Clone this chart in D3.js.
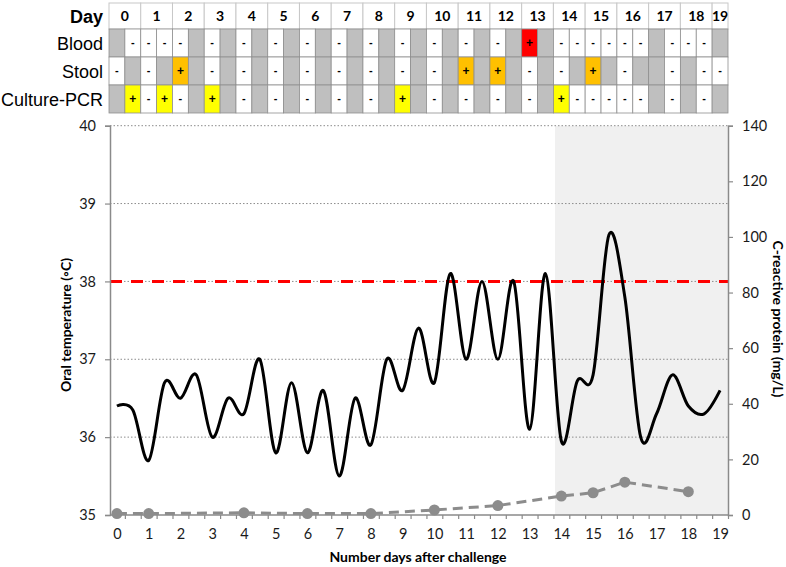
<!DOCTYPE html>
<html><head><meta charset="utf-8">
<script src="https://cdn.jsdelivr.net/npm/d3@7"></script>
<style>body{margin:0;background:#fff}svg{display:block}</style>
</head><body>
<svg id="c" width="786" height="567"></svg>
<script>
// ---------- data ----------
const days = d3.range(0, 20);
const halfDays = d3.range(0, 39).map(i => i / 2);
const temperature = [
  36.4, 36.35, 35.7, 36.7, 36.5, 36.8, 36.0, 36.5, 36.3, 37.0,
  35.8, 36.7, 35.8, 36.6, 35.5, 36.5, 35.9, 37.0, 36.6, 37.4,
  36.7, 38.1, 37.0, 38.0, 37.0, 38.0, 36.1, 38.1, 35.95, 36.72,
  36.8, 38.6, 37.8, 36.0, 36.3, 36.8, 36.4, 36.3, 36.6
];
const crpDays = [0, 1, 4, 6, 8, 10, 12, 14, 15, 16, 18];
const crpValues = [0.5, 0.5, 0.8, 0.5, 0.5, 1.8, 3.4, 6.8, 8.0, 11.8, 8.4];
const tempTicks = [35, 36, 37, 38, 39, 40];
const crpTicks = [0, 20, 40, 60, 80, 100, 120, 140];
const feverThreshold = 38;
const shadeStartDay = 13.8;
const testNames = ["Blood", "Stool", "Culture-PCR"];
// x = not sampled, - = negative, + = positive (one char per half day)
const bloodResults   = "x----x-x-x-x-x-x-x-x-x-x-x+x------x---x";
const stoolResults   = "-x-x+x-x-x-x-x-x-x-x-x+x+x-x-x+x-xx-x--";
const cultureResults = "x+-+-x+x-x-x-x-x-x+x-x-x-x-x+-----x-x-x";
const positiveColors = ["#ff0000", "#ffc000", "#ffff00"];

// ---------- layout ----------
const svg = d3.select("#c");
const L = 109, R = 728, T = 125.7, B = 515;
const x = d3.scaleLinear().domain([-0.25, 19.25]).range([L, R]);
const yT = d3.scaleLinear().domain([35, 40]).range([B, T]);
const yC = d3.scaleLinear().domain([0, 140]).range([B, T]);
const bw = x(0.5) - x(0);
const axisColor = "#8a8a8a";
const numFont = "Lato, 'Open Sans', sans-serif";

// shaded period
svg.append("rect")
  .attr("x", x(shadeStartDay)).attr("y", T)
  .attr("width", R - x(shadeStartDay)).attr("height", B - T)
  .attr("fill", "#f0f0f0");

// grid
svg.append("g").selectAll("line").data(tempTicks.filter(t => t > 35)).join("line")
  .attr("x1", L + 1).attr("x2", R).attr("y1", d => yT(d)).attr("y2", d => yT(d))
  .attr("stroke", "#8c8c8c").attr("stroke-width", 1).attr("stroke-dasharray", "1.5,2");

// fever threshold
svg.append("line")
  .attr("x1", L + 1).attr("x2", R).attr("y1", yT(feverThreshold)).attr("y2", yT(feverThreshold))
  .attr("stroke", "#ff0000").attr("stroke-width", 3).attr("stroke-dasharray", "12,9");

// axes
const gl = svg.append("g").attr("transform", `translate(${L + 1},0)`)
  .call(d3.axisLeft(yT).tickValues(tempTicks).tickSize(5).tickPadding(9).tickFormat(d3.format("d")));
const gr = svg.append("g").attr("transform", `translate(${R},0)`)
  .call(d3.axisRight(yC).tickValues(crpTicks).tickSize(5).tickPadding(9).tickFormat(d3.format("d")));
const gbTicks = svg.append("g").attr("transform", `translate(0,${B})`)
  .call(d3.axisBottom(x).tickValues(d3.range(0, 39).map(i => 0.25 + 0.5 * i)).tickSize(4).tickFormat(""));
const gb = svg.append("g").attr("transform", `translate(0,${B})`)
  .call(d3.axisBottom(x).tickValues(days).tickSize(0).tickPadding(14).tickFormat(d3.format("d")));
gb.select(".domain").remove();
[gl, gr, gbTicks].forEach(g => {
  g.select(".domain").attr("stroke", axisColor).attr("stroke-width", 1.5);
  g.selectAll(".tick line").attr("stroke", axisColor).attr("stroke-width", 1.2);
});
gbTicks.select(".domain").attr("d", `M${L + 1},0H${R}`);
[gl, gr, gb].forEach(g => g.selectAll(".tick text")
  .attr("font-family", numFont).attr("font-size", 14.5).attr("fill", "#1a1a1a"));

// CRP series
const crp = crpDays.map((d, i) => ({ d, v: crpValues[i] }));
svg.append("path").datum(crp)
  .attr("d", d3.line().x(p => x(p.d)).y(p => yC(p.v)))
  .attr("fill", "none").attr("stroke", "#8c8c8c").attr("stroke-width", 3)
  .attr("stroke-dasharray", "10,6");
svg.append("g").selectAll("circle").data(crp).join("circle")
  .attr("cx", p => x(p.d)).attr("cy", p => yC(p.v)).attr("r", 5.5)
  .attr("fill", "#8c8c8c");

// temperature series
const temp = halfDays.map((d, i) => ({ d, t: temperature[i] }));
svg.append("path").datum(temp)
  .attr("d", d3.line().x(p => x(p.d)).y(p => yT(p.t)).curve(d3.curveCardinal.tension(0)))
  .attr("fill", "none").attr("stroke", "#000").attr("stroke-width", 3)
  .attr("stroke-linejoin", "round");

// axis titles
svg.append("text").attr("transform", `translate(71,325) rotate(-90)`)
  .attr("text-anchor", "middle").attr("font-family", numFont).attr("font-weight", "bold")
  .attr("font-size", 14).text("Oral temperature (◦C)");
svg.append("text").attr("transform", `translate(773,319) rotate(90)`)
  .attr("text-anchor", "middle").attr("font-family", numFont).attr("font-weight", "bold")
  .attr("font-size", 14).text("C-reactive protein (mg/L)");
svg.append("text").attr("x", 418).attr("y", 562)
  .attr("text-anchor", "middle").attr("font-family", numFont).attr("font-weight", "bold")
  .attr("font-size", 14).text("Number days after challenge");

// ---------- table ----------
const rowTop = [29, 57, 85], rowH = 28, headTop = 3, headH = 26;
const tbl = svg.append("g");
const headCells = days.map(d => ({ d, x0: x(d - 0.25), x1: d === 19 ? R : x(d + 0.75) }));
tbl.selectAll("rect.h").data(headCells).join("rect").attr("class", "h")
  .attr("x", c => c.x0).attr("y", headTop).attr("width", c => c.x1 - c.x0).attr("height", headH)
  .attr("fill", "#fff").attr("stroke", "#c8c8c8").attr("stroke-width", 1);
tbl.selectAll("text.h").data(headCells).join("text").attr("class", "h")
  .attr("x", c => (c.x0 + c.x1) / 2).attr("y", headTop + headH / 2 + 5)
  .attr("text-anchor", "middle").attr("font-family", numFont).attr("font-weight", "bold")
  .attr("font-size", 14).text(c => c.d);
tbl.append("text").attr("x", 103).attr("y", headTop + headH / 2 + 6.5)
  .attr("text-anchor", "end").attr("font-family", "'Liberation Sans', Arial, sans-serif")
  .attr("font-weight", "bold").attr("font-size", 18).text("Day");

const results = [bloodResults, stoolResults, cultureResults];
results.forEach((res, r) => {
  const cells = res.split("").map((s, k) => ({ s, k }));
  const y0 = rowTop[r];
  tbl.append("g").selectAll("rect").data(cells).join("rect")
    .attr("x", c => x(halfDays[c.k] - 0.25)).attr("y", y0)
    .attr("width", bw).attr("height", rowH)
    .attr("fill", c => c.s === "x" ? "#bfbfbf" : c.s === "+" ? positiveColors[r] : "#fff")
    .attr("stroke", "#8f8f8f").attr("stroke-width", 0.8);
  tbl.append("g").selectAll("text").data(cells.filter(c => c.s !== "x")).join("text")
    .attr("x", c => x(halfDays[c.k])).attr("y", y0 + rowH / 2)
    .attr("dy", c => c.s === "+" ? "0.35em" : "0.3em")
    .attr("text-anchor", "middle").attr("font-family", "'Liberation Sans', Arial, sans-serif")
    .attr("font-weight", "bold").attr("font-size", c => c.s === "+" ? 12 : 11)
    .text(c => c.s);
  tbl.append("text").attr("x", 103).attr("y", y0 + rowH / 2 + 6.5)
    .attr("text-anchor", "end").attr("font-family", "'Liberation Sans', Arial, sans-serif")
    .attr("font-size", 18).text(testNames[r]);
});
</script>
</body></html>
